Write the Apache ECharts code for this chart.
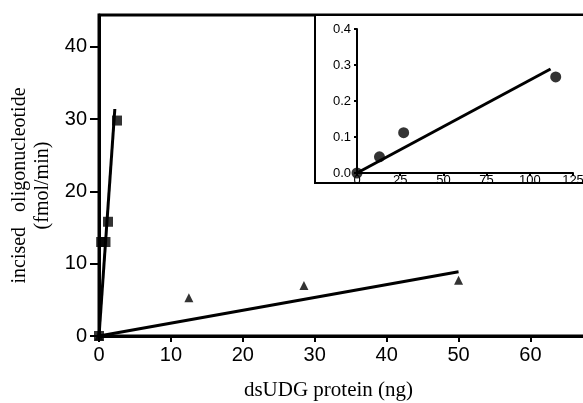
<!DOCTYPE html>
<html>
<head>
<meta charset="utf-8">
<script src="https://cdn.jsdelivr.net/npm/echarts@6/dist/echarts.min.js"></script>
<style>
  html, body { margin: 0; padding: 0; background: #fff; }
</style>
</head>
<body>
<div id="main" style="width: 583px;height:403px;"></div>
<script>
    // main panel data
    var squarePts = [[0, 0], [0.3, 13], [0.9, 13], [1.25, 15.8], [2.5, 29.8]];
    var squareFit = [[0, 0], [2.2, 31.4]];
    var trianglePts = [[0, 0], [12.5, 5.3], [28.5, 7.0], [50, 7.7]];
    var triangleFit = [[0, 0], [50, 8.9]];
    var mainXTicks = [0, 10, 20, 30, 40, 50, 60];
    var mainYTicks = [0, 10, 20, 30, 40];

    // inset data
    var circlePts = [[0, 0], [13, 0.045], [27, 0.112], [115, 0.267]];
    var circleFit = [[0, 0], [112, 0.289]];
    var insetXTicks = [0, 25, 50, 75, 100, 125];
    var insetYTicks = [0.0, 0.1, 0.2, 0.3, 0.4];

    var myChart = echarts.init(document.getElementById('main'));

    var sans = 'Liberation Sans';
    var serif = 'Liberation Serif';

    function axisBase(width) {
        return {
            axisLine: {show: true, onZero: false, lineStyle: {color: '#000', width: width}},
            splitLine: {show: false}
        };
    }

    var option = {
        animation: false,
        backgroundColor: '#fff',
        grid: [
            {left: 99, top: 15, right: -5, bottom: 67, show: true, borderColor: '#000', borderWidth: 3,
             containLabel: false, outerBoundsMode: 'none'},
            {left: 315, top: 15, right: -5, height: 168, show: true, borderColor: '#000', borderWidth: 2,
             backgroundColor: '#fff', z: 5, containLabel: false, outerBoundsMode: 'none'},
            {left: 357, top: 29, width: 216, height: 144, z: 6, containLabel: false, outerBoundsMode: 'none'}
        ],
        xAxis: [
            Object.assign(axisBase(3), {
                gridIndex: 0, type: 'value', min: 0, max: 68,
                name: 'dsUDG protein (ng)', nameLocation: 'middle', nameGap: 44,
                nameTextStyle: {fontFamily: serif, fontSize: 21, color: '#000', padding: [0, 30, 0, 0]},
                axisTick: {show: true, length: 6, customValues: mainXTicks, lineStyle: {color: '#000', width: 2}},
                axisLabel: {customValues: mainXTicks, fontFamily: sans, fontSize: 20, color: '#000', margin: 9}
            }),
            {gridIndex: 1, type: 'value', show: false, min: 0, max: 1},
            Object.assign(axisBase(2), {
                gridIndex: 2, type: 'value', min: 0, max: 125, z: 6,
                axisTick: {show: true, length: 3, customValues: insetXTicks, lineStyle: {color: '#000', width: 2}},
                axisLabel: {customValues: insetXTicks, fontFamily: sans, fontSize: 13, color: '#000', margin: 1}
            })
        ],
        yAxis: [
            Object.assign(axisBase(3), {
                gridIndex: 0, type: 'value', min: 0, max: 44.4,
                name: 'incised   oligonucleotide\n(fmol/min)', nameLocation: 'middle', nameGap: 42,
                nameRotate: 90,
                nameTextStyle: {fontFamily: serif, fontSize: 20, color: '#000', lineHeight: 23,
                    padding: [0, 20, 0, 0]},
                axisTick: {show: true, length: 9, customValues: mainYTicks, lineStyle: {color: '#000', width: 2}},
                axisLabel: {customValues: mainYTicks, fontFamily: sans, fontSize: 20, color: '#000', margin: 12}
            }),
            {gridIndex: 1, type: 'value', show: false, min: 0, max: 1},
            Object.assign(axisBase(2), {
                gridIndex: 2, type: 'value', min: 0, max: 0.4, z: 6,
                axisTick: {show: true, length: 3, customValues: insetYTicks, lineStyle: {color: '#000', width: 2}},
                axisLabel: {customValues: insetYTicks, fontFamily: sans, fontSize: 13, color: '#000', margin: 6,
                    formatter: function (v) { return v.toFixed(1); }}
            })
        ],
        series: [
            {
                type: 'line', xAxisIndex: 0, yAxisIndex: 0, data: squareFit,
                showSymbol: false, lineStyle: {color: '#000', width: 3}, z: 3
            },
            {
                type: 'line', xAxisIndex: 0, yAxisIndex: 0, data: triangleFit,
                showSymbol: false, lineStyle: {color: '#000', width: 3}, z: 3
            },
            {
                type: 'scatter', xAxisIndex: 0, yAxisIndex: 0, data: squarePts,
                symbol: 'rect', symbolSize: 10, itemStyle: {color: '#000'}, z: 4
            },
            {
                type: 'scatter', xAxisIndex: 0, yAxisIndex: 0, data: trianglePts,
                symbol: 'triangle', symbolSize: 9, itemStyle: {color: '#000'}, z: 4
            },
            {
                type: 'line', xAxisIndex: 2, yAxisIndex: 2, data: circleFit,
                showSymbol: false, lineStyle: {color: '#000', width: 3}, z: 7
            },
            {
                type: 'scatter', xAxisIndex: 2, yAxisIndex: 2, data: circlePts,
                symbol: 'circle', symbolSize: 11, itemStyle: {color: '#000'}, z: 8
            }
        ]
    };
    myChart.setOption(option);
</script>
</body>
</html>
